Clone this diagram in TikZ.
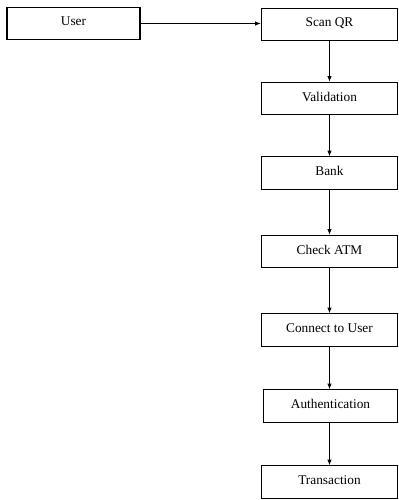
\documentclass[tikz,border=0pt]{standalone}
\usepackage{fontspec}
\setmainfont{Liberation Serif}
\usetikzlibrary{arrows.meta}
\begin{document}
\begin{tikzpicture}[x=0.75pt, y=-0.75pt,
    boxStyle/.style={draw, line width=0.9pt, minimum width=102.5pt, minimum height=24.5pt, inner sep=0pt, text depth=3pt, font=\fontsize{10}{12}\selectfont},
    arrowStyle/.style={-{Latex[length=4pt,width=3.2pt]}, line width=0.45pt}]
    \useasboundingbox (0,0) rectangle (399,500);
    \node[boxStyle, minimum width=99.75pt](user) at (73.5, 23.5) {User};
    \node[boxStyle](scan) at (329.5, 24.5) {Scan QR};
    \node[boxStyle](valid) at (329.5, 98.5) {Validation};
    \node[boxStyle](bank) at (329.5, 173) {Bank};
    \node[boxStyle](check) at (329.5, 251.5) {Check ATM};
    \node[boxStyle](connect) at (329.5, 330) {Connect to User};
    \node[boxStyle, minimum width=100.5pt](auth) at (330.5, 406) {Authentication};
    \node[boxStyle](trans) at (329.5, 482) {Transaction};

    \draw[arrowStyle] (user.east) -- (user.east -| scan.west);
    \draw[arrowStyle] (scan) -- (valid);
    \draw[arrowStyle] (valid) -- (bank);
    \draw[arrowStyle] (bank) -- (check);
    \draw[arrowStyle] (check) -- (connect);
    \draw[arrowStyle] (connect.south) -- (connect.south |- auth.north);
    \draw[arrowStyle] (connect.south |- auth.south) -- (connect.south |- trans.north);
\end{tikzpicture}
\end{document}
